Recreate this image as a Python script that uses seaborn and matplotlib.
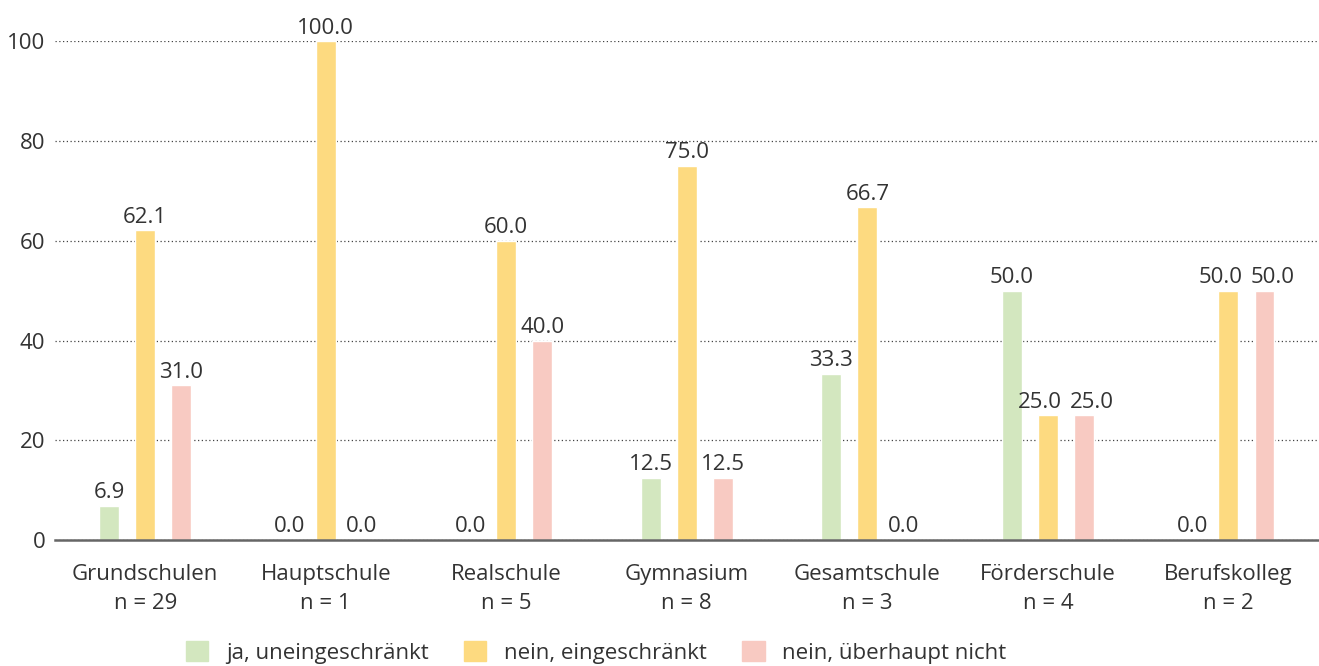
import pandas as pd
import numpy as np
import matplotlib
matplotlib.use("Agg")
import matplotlib.pyplot as plt
import seaborn as sns

schools = ["Grundschulen", "Hauptschule", "Realschule", "Gymnasium",
           "Gesamtschule", "Förderschule", "Berufskolleg"]
n_values = [29, 1, 5, 8, 3, 4, 2]
answers = ["ja, uneingeschränkt", "nein, eingeschränkt", "nein, überhaupt nicht"]
ja_uneingeschraenkt = [6.9, 0.0, 0.0, 12.5, 33.3, 50.0, 0.0]
nein_eingeschraenkt = [62.1, 100.0, 60.0, 75.0, 66.7, 25.0, 50.0]
nein_ueberhaupt = [31.0, 0.0, 40.0, 12.5, 0.0, 25.0, 50.0]
colors = ["#d3e7bf", "#fdda80", "#f8cac2"]

# long format for seaborn
rows = []
for answer, vals in zip(answers, [ja_uneingeschraenkt, nein_eingeschraenkt, nein_ueberhaupt]):
    for school, v in zip(schools, vals):
        rows.append({"Schulform": school, "Antwort": answer, "Prozent": v})
data = pd.DataFrame(rows)

sns.set_style("white")
plt.rcParams["font.family"] = ["Open Sans", "DejaVu Sans"]
text_color = "#333333"
fs = 16

fig = plt.figure(figsize=(13.19, 6.66), dpi=100)
ax = fig.add_axes([0.0417, 0.189, 0.958, 0.749])

sns.barplot(data=data, x="Schulform", y="Prozent", hue="Antwort",
            hue_order=answers, palette=colors, width=0.6, gap=0.45,
            saturation=1, ax=ax, legend=True, zorder=2)

# value labels
all_labels = []
for container in ax.containers:
    labels = ax.bar_label(container, fmt="%.1f", padding=2, fontsize=fs,
                          color=text_color, clip_on=False, zorder=5)
    for lab, bar in zip(labels, container):
        if bar.get_height() == 0:
            lab.set_bbox(dict(facecolor="white", edgecolor="none", pad=1))
        all_labels.append((bar.get_x() + bar.get_width() / 2, bar.get_height(), lab))

ax.set_ylim(0, 100)
ax.set_xlim(-0.5, 6.5)
ax.set_yticks([0, 20, 40, 60, 80, 100])
ax.yaxis.grid(True, linestyle=(0, (1, 2)), color="#444444", linewidth=0.9, zorder=0)
ax.set_axisbelow(True)
ax.tick_params(axis="both", length=0, labelsize=fs, colors=text_color)
ax.tick_params(axis="y", pad=7)
ax.tick_params(axis="x", pad=17)
ax.set_xticks(range(len(schools)))
ax.set_xticklabels([f"{s}\nn = {n}" for s, n in zip(schools, n_values)],
                   linespacing=1.5)
ax.set_xlabel("")
ax.set_ylabel("")

for side in ["top", "right", "left"]:
    ax.spines[side].set_visible(False)
ax.spines["bottom"].set_color("#666666")
ax.spines["bottom"].set_linewidth(1.8)
ax.spines["bottom"].set_zorder(3)

# push apart neighbouring labels at the same height
fig.canvas.draw()
renderer = fig.canvas.get_renderer()
all_labels.sort(key=lambda t: t[0])
for (x1, h1, l1), (x2, h2, l2) in zip(all_labels[:-1], all_labels[1:]):
    if abs(h1 - h2) > 3 or x2 - x1 > 0.3:
        continue
    b1 = l1.get_window_extent(renderer)
    b2 = l2.get_window_extent(renderer)
    overlap = b1.x1 - b2.x0 + 8
    if overlap > 0:
        shift = overlap / 2 * 72 / fig.dpi
        l1.xyann = (l1.xyann[0] - shift, l1.xyann[1])
        l2.xyann = (l2.xyann[0] + shift, l2.xyann[1])

ax.legend_.remove()
handles = [plt.Rectangle((0, 0), 1, 1, color=c) for c in colors]
fig.legend(handles, answers, loc="center", bbox_to_anchor=(0.452, 0.02),
           ncol=3, frameon=False, fontsize=fs, handlelength=1.0,
           handleheight=1.0, columnspacing=1.6, handletextpad=0.8,
           labelcolor=text_color)

fig.savefig("out.png", dpi=100)
